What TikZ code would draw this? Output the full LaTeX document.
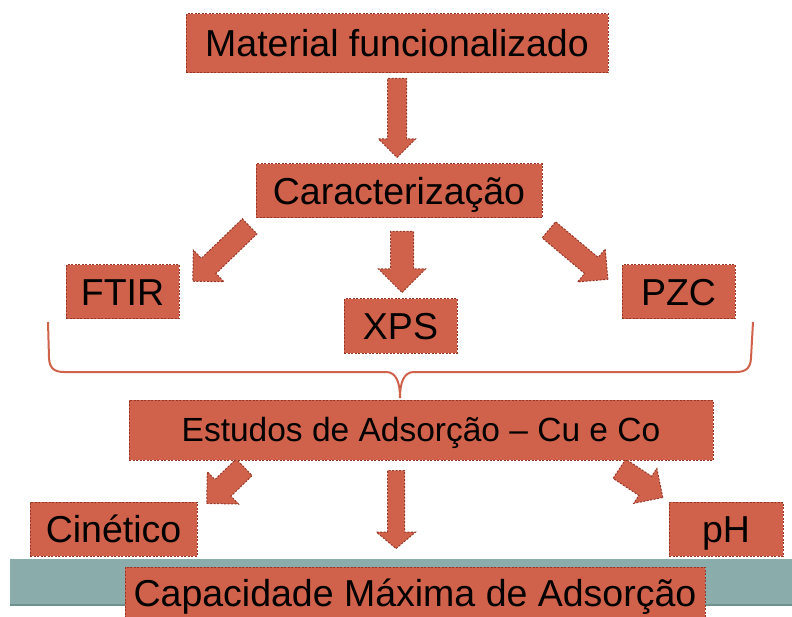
\documentclass[tikz,border=0pt]{standalone}
\usepackage{fontspec}
\setmainfont{Liberation Sans}
\usetikzlibrary{shapes.arrows}
\definecolor{boxfill}{RGB}{208,98,75}
\definecolor{boxline}{RGB}{150,55,40}
\definecolor{bandteal}{RGB}{138,173,171}
\definecolor{bandedge}{RGB}{110,145,143}
\begin{document}
\begin{tikzpicture}[x=1pt,y=-1pt,
  box/.style={rectangle, fill=boxfill, draw=boxline, line width=1pt,
    dash pattern=on 2pt off 1.5pt, inner sep=0pt, text=black,
    font=\fontsize{37.5}{40}\selectfont, text height=27pt, text depth=0pt},
  smallbox/.style={box, font=\fontsize{33.5}{36}\selectfont, text height=22pt},
  blk/.style={single arrow, fill=boxfill, draw=boxline, line width=1pt,
    dash pattern=on 2pt off 1.5pt, inner xsep=0pt, anchor=tail,
    single arrow tip angle=90},
  brace/.style={draw=boxfill, line width=2pt}
]
\useasboundingbox (0,0) rectangle (792,617);
\clip (0,0) rectangle (792,617);

% brace
\draw[brace] (48,322) -- (49,358) .. controls (49.5,368) and (54,372) .. (64,372)
  -- (386,372) .. controls (396,372) and (400,382) .. (400,398);
\draw[brace] (753,322) -- (751,358) .. controls (750.5,368) and (746,372) .. (736,372)
  -- (414,372) .. controls (404,372) and (400,382) .. (400,398);

% teal band
\fill[bandteal] (10,559) rectangle (792,605);
\draw[bandedge, line width=1.5pt] (10,605) -- (792,605);

% block arrows
\node[blk, minimum height=79pt, inner ysep=9pt, minimum width=36pt,
  single arrow head extend=9pt, rotate=-90] (a1) at (397,78) {};
\node[blk, minimum height=79pt, inner ysep=10pt, minimum width=43pt,
  single arrow head extend=11.5pt, rotate=-136] (a2) at (250,226) {};
\node[blk, minimum height=61pt, inner ysep=11pt, minimum width=46pt,
  single arrow head extend=12pt, rotate=-90] (a3) at (402,231) {};
\node[blk, minimum height=77pt, inner ysep=10pt, minimum width=42pt,
  single arrow head extend=11pt, rotate=-40] (a4) at (548.5,229.5) {};
\node[blk, minimum height=52pt, inner ysep=11pt, minimum width=44pt,
  single arrow head extend=11pt, rotate=-136] (a5) at (244.5,467) {};
\node[blk, minimum height=78pt, inner ysep=8pt, minimum width=38pt,
  single arrow head extend=11pt, single arrow tip angle=100, rotate=-90] (a6) at (396,470) {};
\node[blk, minimum height=52pt, inner ysep=11pt, minimum width=41pt,
  single arrow head extend=9.5pt, rotate=-33.5] (a7) at (619,468.5) {};

% boxes
\node[box, minimum width=422pt, minimum height=59pt] (mat) at (397,43.5) {Material funcionalizado};
\node[box, minimum width=286pt, minimum height=54pt] (car) at (399,191) {Caracterização};
\node[box, minimum width=113pt, minimum height=54pt] (ftir) at (122.5,292) {FTIR};
\node[box, minimum width=113pt, minimum height=54pt] (xps) at (400.5,326) {XPS};
\node[box, minimum width=113pt, minimum height=54pt] (pzc) at (678.5,292) {PZC};
\node[smallbox, minimum width=584pt, minimum height=60pt] (est) at (421,430) {Estudos de Adsorção – Cu e Co};
\node[box, minimum width=167pt, minimum height=54pt] (cin) at (113.5,529) {Cinético};
\node[box, minimum width=114pt, minimum height=54pt] (ph) at (726,529) {pH};
\node[box, minimum width=580pt, minimum height=51pt] (cap) at (415,592.5) {Capacidade Máxima de Adsorção};
\end{tikzpicture}
\end{document}
